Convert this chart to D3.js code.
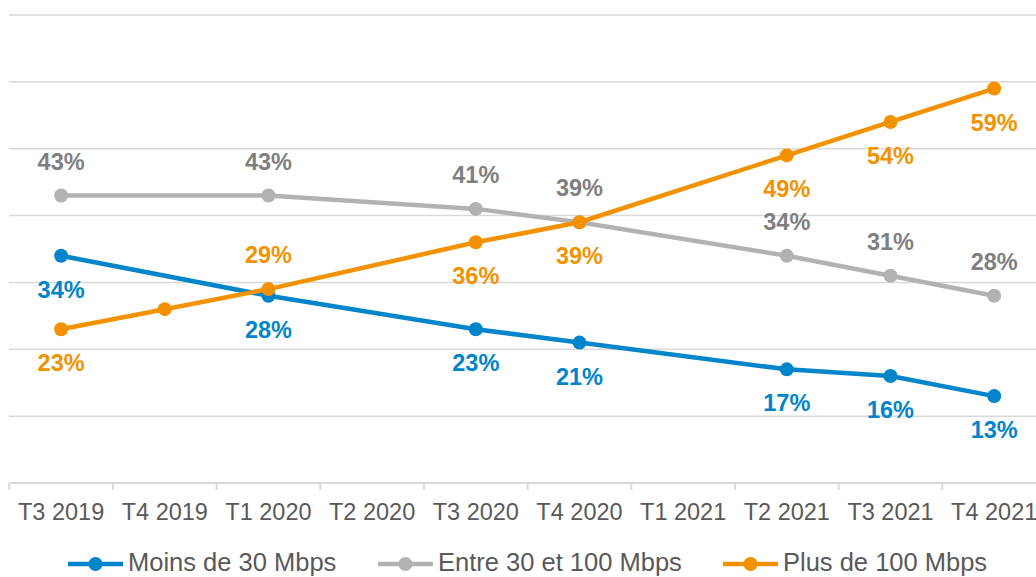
<!DOCTYPE html>
<html>
<head>
<meta charset="utf-8">
<script src="https://cdn.jsdelivr.net/npm/d3@7"></script>
<style>
  html, body { margin: 0; padding: 0; background: #fff; }
  * { font-family: "Liberation Sans", Arial, sans-serif; }
</style>
</head>
<body>
<div class="container"></div>
<script>
const width = 1036;
const height = 577;

// data (null = no point for that quarter)
const quarters = ["T3 2019", "T4 2019", "T1 2020", "T2 2020", "T3 2020",
  "T4 2020", "T1 2021", "T2 2021", "T3 2021", "T4 2021"];
const moins30 = [34, null, 28, null, 23, 21, null, 17, 16, 13];
const entre30et100 = [43, null, 43, null, 41, 39, null, 34, 31, 28];
const plus100 = [23, 26, 29, null, 36, 39, null, 49, 54, 59];
const yTicks = [0, 10, 20, 30, 40, 50, 60, 70];

const series = [
  { name: "Moins de 30 Mbps", values: moins30, color: "#0085CA", label: "#0085CA", above: [] },
  { name: "Entre 30 et 100 Mbps", values: entre30et100, color: "#B2B2B2", label: "#7F7F7F", above: quarters },
  { name: "Plus de 100 Mbps", values: plus100, color: "#F39200", label: "#F39200", above: ["T1 2020"], hidden: ["T4 2019"] }
];

const svg = d3.select(".container")
  .append("svg")
  .attr("width", width)
  .attr("height", height)
  .attr("viewBox", `0 0 ${width} ${height}`);

const x = d3.scaleBand().domain(quarters).range([9.3, 1046]);
const y = d3.scaleLinear().domain([0, 70]).range([483, 15]);
const cx = d => x(d) + x.bandwidth() / 2;

// grid lines
svg.append("g")
  .selectAll("line")
  .data(yTicks.slice(1))
  .join("line")
  .attr("x1", 9)
  .attr("x2", width)
  .attr("y1", d => y(d))
  .attr("y2", d => y(d))
  .attr("stroke", "#D9D9D9")
  .attr("stroke-width", 1.5);

// x axis
const xAxis = svg.append("g")
  .attr("transform", `translate(0,${y(0)})`);
xAxis.append("line")
  .attr("x1", 9)
  .attr("x2", width)
  .attr("stroke", "#D9D9D9")
  .attr("stroke-width", 2);
xAxis.selectAll("line.tick")
  .data(quarters.concat([null]))
  .join("line")
  .attr("class", "tick")
  .attr("x1", (d, i) => 9.3 + i * x.step())
  .attr("x2", (d, i) => 9.3 + i * x.step())
  .attr("y1", 0)
  .attr("y2", 7)
  .attr("stroke", "#D9D9D9")
  .attr("stroke-width", 2);
xAxis.selectAll("text")
  .data(quarters)
  .join("text")
  .attr("x", d => cx(d))
  .attr("y", 37)
  .attr("text-anchor", "middle")
  .attr("fill", "#595959")
  .style("font-size", "23.5px")
  .text(d => d);

const line = d3.line()
  .x(d => cx(d.q))
  .y(d => y(d.v));

series.forEach(s => {
  const pts = quarters
    .map((q, i) => ({ q, v: s.values[i] }))
    .filter(d => d.v !== null);
  const g = svg.append("g");
  g.append("path")
    .datum(pts)
    .attr("d", line)
    .attr("fill", "none")
    .attr("stroke", s.color)
    .attr("stroke-width", 4.5)
    .attr("stroke-linejoin", "round");
  g.selectAll("circle")
    .data(pts)
    .join("circle")
    .attr("cx", d => cx(d.q))
    .attr("cy", d => y(d.v))
    .attr("r", 7)
    .attr("fill", s.color);
  s.pts = pts;
});

// data labels on top
series.forEach(s => {
  svg.append("g")
    .selectAll("text")
    .data(s.pts.filter(d => !(s.hidden || []).includes(d.q)))
    .join("text")
    .attr("x", d => cx(d.q))
    .attr("y", d => y(d.v) + (s.above.includes(d.q) ? -26 : 42))
    .attr("text-anchor", "middle")
    .attr("fill", s.label)
    .style("font-size", "23.5px")
    .style("font-weight", "bold")
    .text(d => d.v + "%");
});

// legend
const legendX = [68, 378, 723];
const legend = svg.append("g");
series.forEach((s, i) => {
  const item = legend.append("g")
    .attr("transform", `translate(${legendX[i]},564)`);
  item.append("line")
    .attr("x1", 0)
    .attr("x2", 55)
    .attr("stroke", s.color)
    .attr("stroke-width", 4.5);
  item.append("circle")
    .attr("cx", 27.5)
    .attr("r", 7)
    .attr("fill", s.color);
  item.append("text")
    .attr("x", 60)
    .attr("y", 7)
    .attr("fill", "#595959")
    .style("font-size", "25.5px")
    .text(s.name);
});
</script>
</body>
</html>
